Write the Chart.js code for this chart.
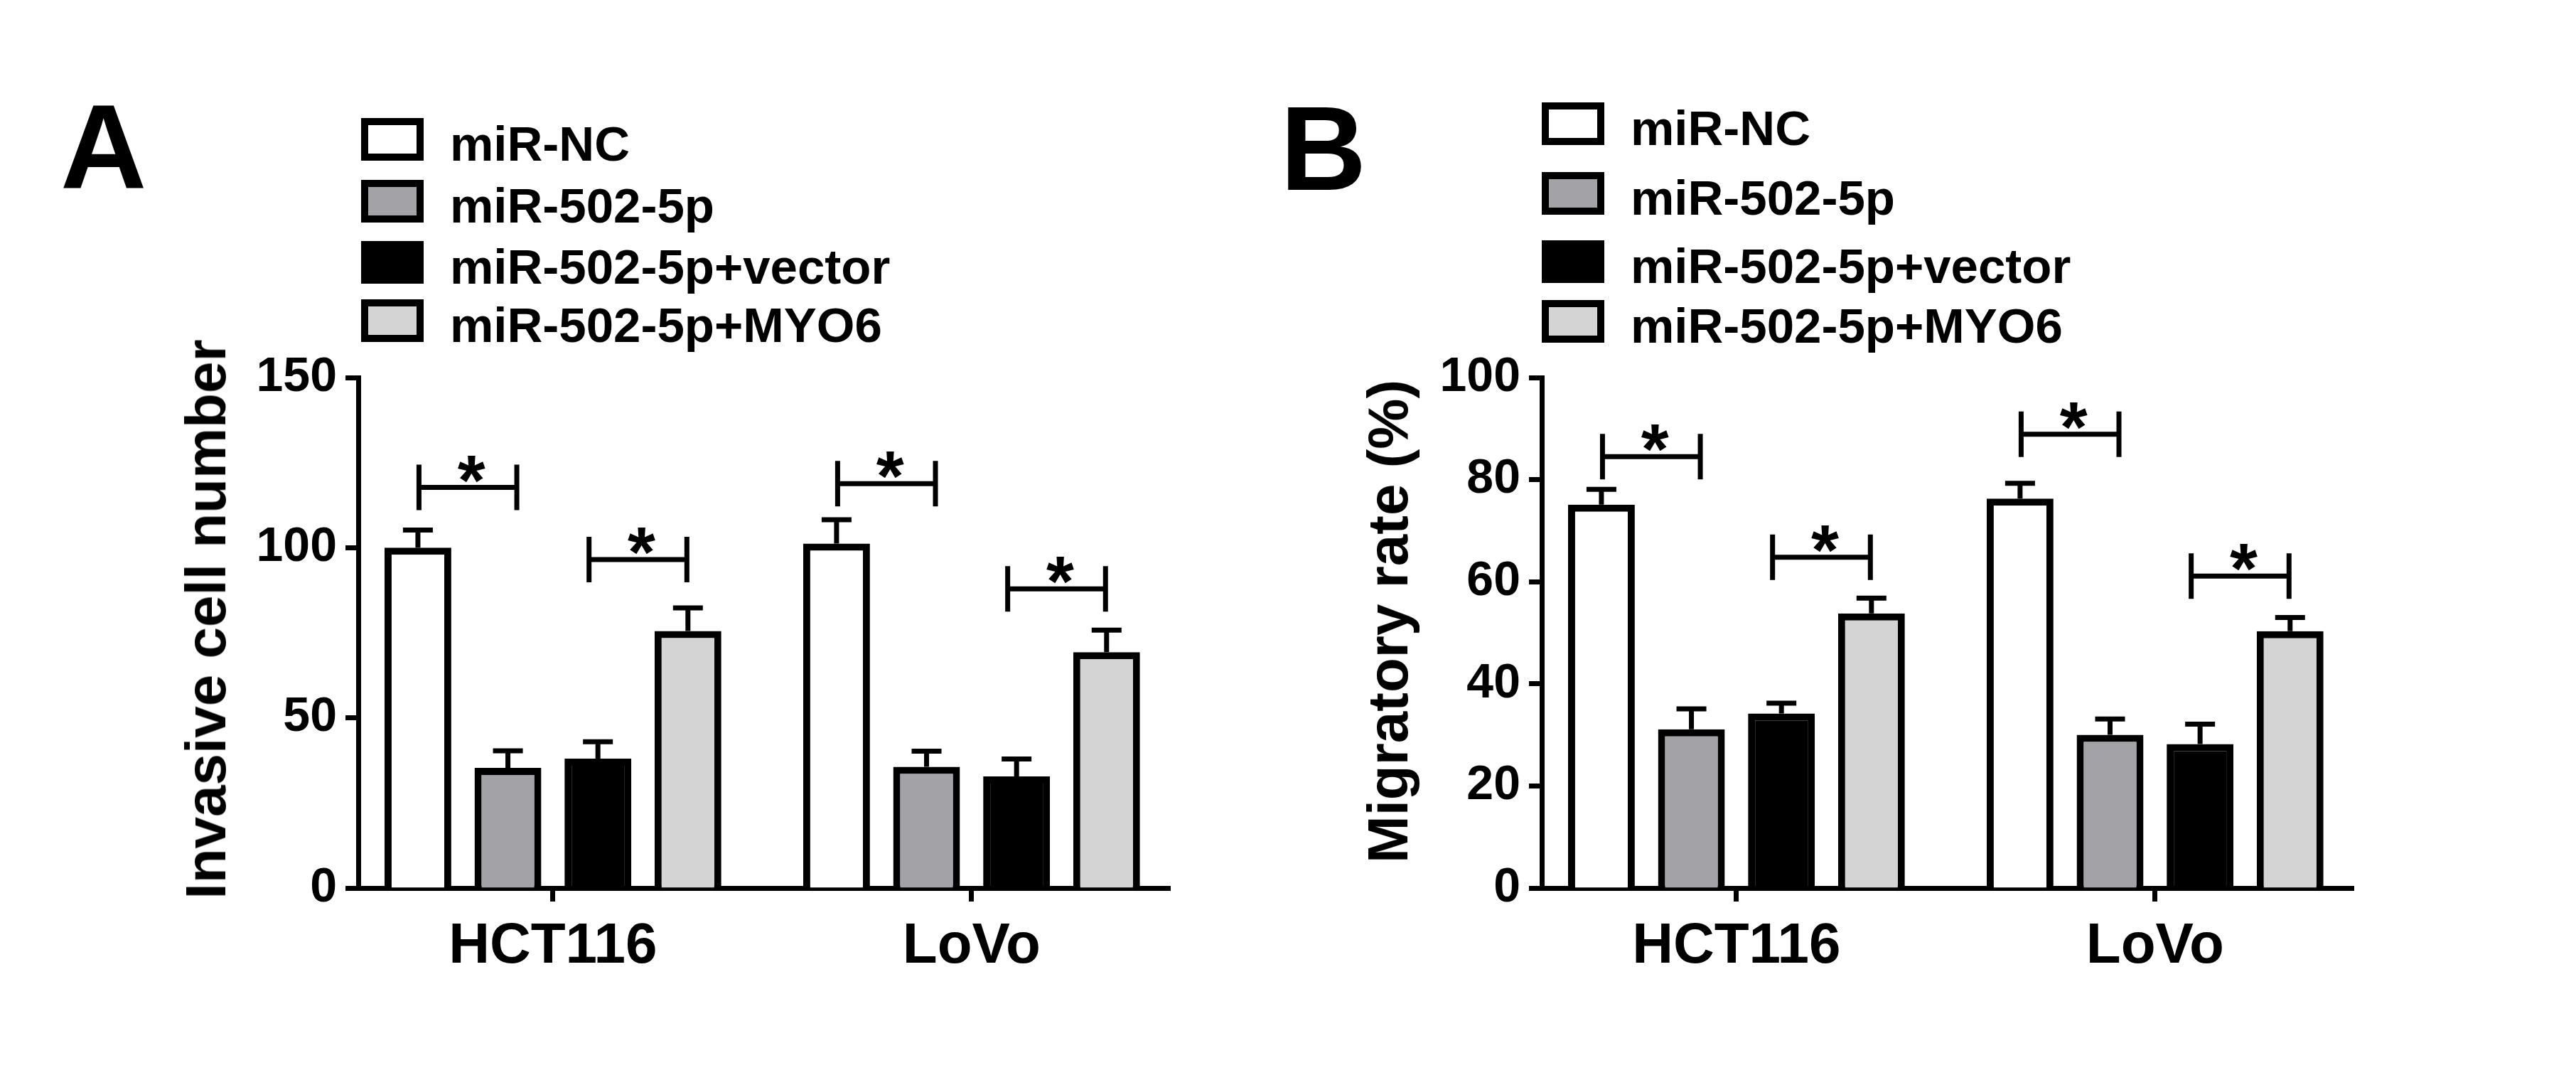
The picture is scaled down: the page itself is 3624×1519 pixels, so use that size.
<!DOCTYPE html>
<html>
<head>
<meta charset="utf-8">
<script src="https://cdn.jsdelivr.net/npm/chart.js@4.4.1/dist/chart.umd.min.js"></script>
<style>
  html, body { margin: 0; padding: 0; background: #fff; }
  body { width: 3624px; height: 1519px; position: relative; overflow: hidden;
         font-family: "Liberation Sans", Arial, sans-serif; font-weight: bold; color: #000; }
  canvas { position: absolute; top: 0; }
  .letter { position: absolute; font-size: 168px; line-height: 168px; }
  .lg-box { position: absolute; width: 88px; height: 60px; border: 10px solid #000; box-sizing: border-box; }
  .lg-text { position: absolute; font-size: 69px; line-height: 69px; white-space: nowrap; }
  .ytitle { position: absolute; font-size: 80px; line-height: 80px; white-space: nowrap;
            transform: translate(-50%, -50%) rotate(-90deg); }
</style>
</head>
<body>
<div class="letter" style="left:85px; top:123px;">A</div>
<div class="letter" style="left:1801px; top:125px;">B</div>
<canvas id="chartA" width="1812" height="1519" style="left:0; width:1812px; height:1519px;"></canvas>
<canvas id="chartB" width="1812" height="1519" style="left:1812px; width:1812px; height:1519px;"></canvas>
<script>
// ===== DATA =====
const groups = ['HCT116', 'LoVo'];
const seriesNames = ['miR-NC', 'miR-502-5p', 'miR-502-5p+vector', 'miR-502-5p+MYO6'];
const seriesColors = ['#ffffff', '#a3a2a7', '#000000', '#d4d4d4'];

// invasion (panel A): one row per series, [HCT116, LoVo]
const invasionMeans = [[100.0, 101.2], [35.3, 35.6], [38.0, 32.8], [75.5, 69.3]];
const invasionSD = [[5.2, 7.0], [5.0, 4.6], [5.0, 5.1], [6.8, 6.5]];
const invasionTicks = [0, 50, 100, 150];

// migration (panel B)
const migrationMeans = [[75.1, 76.3], [31.1, 30.0], [34.2, 28.2], [53.8, 50.3]];
const migrationSD = [[3.0, 3.0], [4.0, 3.1], [2.0, 3.9], [3.0, 2.7]];
const migrationTicks = [0, 20, 40, 60, 80, 100];

// significance brackets: [group, left series, right series] and their heights
const sigPairs = [[0, 0, 1], [0, 2, 3], [1, 0, 1], [1, 2, 3]];
const invasionSigLevels = [117.7, 96.5, 118.8, 87.9];
const migrationSigLevels = [84.5, 64.8, 88.9, 61.1];

// ===== STYLE =====
const FONT = '"Liberation Sans", Arial, sans-serif';
const LINE = 7;

// ===== LEGENDS + AXIS TITLES (html) =====
function addLegend(left, tops) {
  seriesNames.forEach((name, i) => {
    const box = document.createElement('div');
    box.className = 'lg-box';
    box.style.left = left + 'px';
    box.style.top = tops[i] + 'px';
    box.style.background = seriesColors[i];
    document.body.appendChild(box);

    const txt = document.createElement('div');
    txt.className = 'lg-text';
    txt.style.left = (left + 125) + 'px';
    txt.style.top = (tops[i] + 2) + 'px';
    txt.textContent = name;
    document.body.appendChild(txt);
  });
}
addLegend(508, [166, 253, 339, 421]);
addLegend(2169, [144, 242, 338, 422]);

function addYTitle(text, cx, cy) {
  const t = document.createElement('div');
  t.className = 'ytitle';
  t.style.left = cx + 'px';
  t.style.top = cy + 'px';
  t.textContent = text;
  document.body.appendChild(t);
}
addYTitle('Invasive cell number', 290, 871);
addYTitle('Migratory rate (%)', 1953, 874);

// ===== ERROR BARS + BRACKETS =====
function markPlugin(means, sds, levels) {
  return {
    id: 'marks',
    afterDatasetsDraw(chart) {
      const ctx = chart.ctx;
      const y = chart.scales.y;
      const x = chart.scales.x;
      ctx.save();
      ctx.strokeStyle = '#000';
      ctx.lineWidth = LINE;
      ctx.lineCap = 'butt';

      // upper error bars
      sds.forEach((row, si) => {
        chart.getDatasetMeta(si).data.forEach((bar, gi) => {
          const top = y.getPixelForValue(means[si][gi] + row[gi]);
          ctx.beginPath();
          ctx.moveTo(bar.x, bar.y);
          ctx.lineTo(bar.x, top);
          ctx.moveTo(bar.x - 21, top);
          ctx.lineTo(bar.x + 21, top);
          ctx.stroke();
        });
      });

      // significance brackets with stars
      sigPairs.forEach(([g, a, b], k) => {
        const xa = chart.getDatasetMeta(a).data[g].x;
        const xb = chart.getDatasetMeta(b).data[g].x;
        const mid = (xa + xb) / 2;
        const shift = Math.sign(x.getPixelForValue(g) - mid) * 7;
        const half = (xb - xa) / 2 + 5.5;
        const x1 = mid + shift - half;
        const x2 = mid + shift + half;
        const yy = y.getPixelForValue(levels[k]);
        ctx.beginPath();
        ctx.moveTo(x1, yy); ctx.lineTo(x2, yy);
        ctx.moveTo(x1, yy - 32); ctx.lineTo(x1, yy + 32);
        ctx.moveTo(x2, yy - 32); ctx.lineTo(x2, yy + 32);
        ctx.stroke();

        ctx.fillStyle = '#000';
        ctx.font = 'bold 100px ' + FONT;
        ctx.textAlign = 'center';
        ctx.textBaseline = 'alphabetic';
        ctx.fillText('*', (x1 + x2) / 2 + 5, yy + 24);
      });
      ctx.restore();
    }
  };
}

// ===== CHART BUILDER =====
function drawPanel(canvasId, p) {
  return new Chart(document.getElementById(canvasId), {
    type: 'bar',
    data: {
      datasets: seriesNames.map((name, si) => ({
        label: name,
        data: p.means[si].map((v, gi) => ({ x: gi, y: v })),
        backgroundColor: seriesColors[si],
        borderColor: '#000',
        borderWidth: 10,
        borderSkipped: 'start',
        inflateAmount: 0,
        categoryPercentage: 0.86,
        barPercentage: 0.742
      }))
    },
    plugins: [markPlugin(p.means, p.sd, p.levels)],
    options: {
      responsive: false,
      animation: false,
      devicePixelRatio: 1,
      layout: { padding: { top: 531, right: p.padRight, bottom: 0, left: 0 } },
      plugins: { legend: { display: false }, tooltip: { enabled: false } },
      scales: {
        x: {
          type: 'linear',
          min: -0.465,
          max: 1.474,
          offset: false,
          afterBuildTicks: (s) => { s.ticks = groups.map((g, i) => ({ value: i })); },
          afterFit: (s) => { s.height = 270; },
          grid: { drawOnChartArea: false, drawTicks: true, tickLength: 19, tickWidth: LINE, tickColor: '#000', offset: false },
          border: { display: true, color: '#000', width: LINE },
          ticks: {
            color: '#000', padding: 16, maxRotation: 0, autoSkip: false,
            font: { family: FONT, size: 80, weight: 'bold' },
            callback: (v) => groups[v]
          }
        },
        y: {
          min: 0,
          max: p.ticks[p.ticks.length - 1],
          afterBuildTicks: (s) => { s.ticks = p.ticks.map(v => ({ value: v })); },
          afterFit: (s) => { s.width = p.axisLeft; },
          grid: { drawOnChartArea: false, drawTicks: true, tickLength: 18, tickWidth: LINE, tickColor: '#000' },
          border: { display: true, color: '#000', width: LINE },
          ticks: { color: '#000', padding: 12, font: { family: FONT, size: 68, weight: 'bold' } }
        }
      }
    }
  });
}

drawPanel('chartA', {
  means: invasionMeans, sd: invasionSD, levels: invasionSigLevels, ticks: invasionTicks,
  axisLeft: 504, padRight: 166
});
drawPanel('chartB', {
  means: migrationMeans, sd: migrationSD, levels: migrationSigLevels, ticks: migrationTicks,
  axisLeft: 357, padRight: 313
});
</script>
</body>
</html>
